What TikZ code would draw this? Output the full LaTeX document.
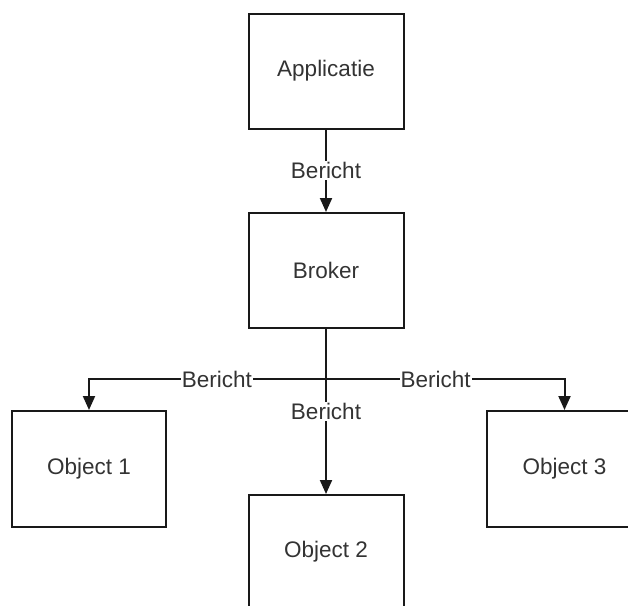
\documentclass[tikz,border=0pt]{standalone}
\usepackage{fontspec}
\setmainfont{Liberation Sans}
\usetikzlibrary{arrows.meta}
\begin{document}
\begin{tikzpicture}[x=1pt,y=-1pt,
  box/.style={draw=black!90,line width=2pt,minimum width=155pt,minimum height=115pt,inner sep=0pt,
    font=\fontsize{22.5}{26}\selectfont,text=black!80},
  conn/.style={draw=black!90,line width=2pt,-{Triangle[width=12pt,length=14pt]}},
  lbl/.style={fill=white,inner sep=1pt,font=\fontsize{22.5}{26}\selectfont,text=black!80}]
\useasboundingbox (0,0) rectangle (628,605);
\clip (0,0) rectangle (628,605);
% boxes
\node[box] (app) at (326,71) {Applicatie};
\node[box] (broker) at (326,270.5) {Broker};
\node[box,minimum width=154pt,minimum height=116pt] (obj1) at (89,469) {Object 1};
\node[box,minimum height=116pt] (obj3) at (564.5,469) {Object 3};
\node[box,minimum height=114pt] (obj2) at (326,552) {Object 2};
\coordinate (j) at (326,379);
% connectors
\draw[conn] (app.south) -- node[lbl] {Bericht} (broker.north);
\draw[conn] (broker.south) -- node[lbl,pos=0.5] {Bericht} (obj2.north);
\draw[conn] (j) -| node[lbl,pos=0.23] {Bericht} (obj1.north);
\draw[conn] (j) -| node[lbl,pos=0.23] {Bericht} (obj3.north);
\end{tikzpicture}
\end{document}
